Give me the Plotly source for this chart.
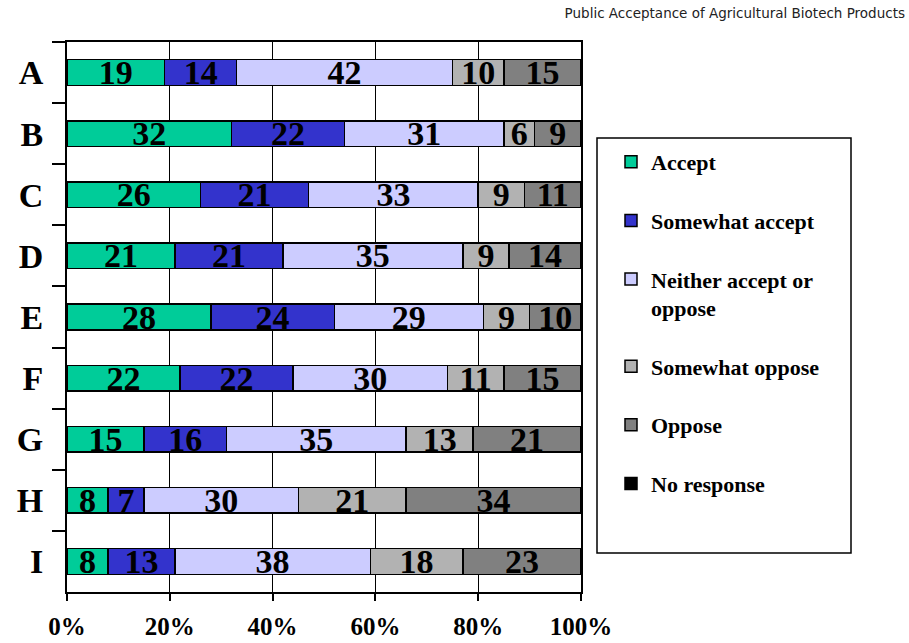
import plotly.graph_objects as go

categories = ["A", "B", "C", "D", "E", "F", "G", "H", "I"]
accept = [19, 32, 26, 21, 28, 22, 15, 8, 8]
somewhat_accept = [14, 22, 21, 21, 24, 22, 16, 7, 13]
neither = [42, 31, 33, 35, 29, 30, 35, 30, 38]
somewhat_oppose = [10, 6, 9, 9, 9, 11, 13, 21, 18]
oppose = [15, 9, 11, 14, 10, 15, 21, 34, 23]
no_response = [0, 0, 0, 0, 0, 0, 0, 0, 0]

series = [
    ("Accept", accept, "#00CC99", True),
    ("Somewhat accept", somewhat_accept, "#3333CC", True),
    ("Neither accept or<br>oppose", neither, "#CCCCFF", True),
    ("Somewhat oppose", somewhat_oppose, "#B2B2B2", True),
    ("Oppose", oppose, "#808080", True),
    ("No response", no_response, "#000000", False),
]

W, H = 909, 643
L, R, T, B = 67, 581, 42, 592

fig = go.Figure()
for i, (name, vals, color, show_text) in enumerate(series):
    fig.add_trace(go.Bar(
        y=categories, x=vals, name=name, orientation="h",
        marker=dict(color=color, line=dict(color="black", width=1.5)),
        text=[str(v) for v in vals] if show_text else None,
        textposition="inside", insidetextanchor="middle", textangle=0,
        constraintext="none",
        textfont=dict(family="Liberation Serif", size=34, color="black", weight="bold"),
        legendgroup=f"g{i}",
        cliponaxis=False,
    ))

fig.update_layout(
    width=W, height=H,
    barmode="stack", bargap=0.58,
    plot_bgcolor="white", paper_bgcolor="white",
    margin=dict(l=L, r=W - R, t=T, b=H - B, autoexpand=False),
    title=dict(text="Public Acceptance of Agricultural Biotech Products",
               x=905 / W, xanchor="right", xref="container",
               y=1 - 13 / H, yanchor="middle",
               font=dict(family="DejaVu Sans", size=13.5, color="#222222")),
    legend=dict(
        x=(611 - L) / (R - L), xanchor="left",
        y=(B - 141) / (B - T), yanchor="top",
        font=dict(family="Liberation Serif", size=22, color="black", weight="bold"),
        borderwidth=0, bgcolor="rgba(0,0,0,0)",
        tracegroupgap=27, valign="top", traceorder="grouped",
    ),
    shapes=[dict(type="rect", xref="paper", yref="paper",
                 x0=(597 - L) / (R - L), x1=(851 - L) / (R - L),
                 y0=(B - 553) / (B - T), y1=(B - 138) / (B - T),
                 line=dict(color="black", width=1.5), fillcolor="rgba(0,0,0,0)", layer="below")],
)

fig.update_xaxes(
    range=[0, 100], tickvals=[0, 20, 40, 60, 80, 100],
    ticktext=["0%", "20%", "40%", "60%", "80%", "100%"],
    showgrid=True, gridcolor="black", gridwidth=1,
    showline=True, linecolor="black", linewidth=2, mirror=True,
    ticks="outside", ticklen=7, tickwidth=2, tickcolor="black",
    ticklabelstandoff=4,
    tickfont=dict(family="Liberation Serif", size=25, color="black", weight="bold"),
    zeroline=False,
)
fig.update_yaxes(
    categoryorder="array", categoryarray=categories, autorange="reversed",
    showline=True, linecolor="black", linewidth=2, mirror=True,
    ticks="outside", tickson="boundaries", ticklen=13, tickwidth=2, tickcolor="black",
    ticklabelstandoff=15,
    tickfont=dict(family="Liberation Serif", size=34, color="black", weight="bold"),
    showgrid=False,
)

fig.write_html("out.html", config={"displayModeBar": False})
with open("out.html", "r", encoding="utf-8") as f:
    html = f.read()
html = html.replace("<head>", "<head><style>html,body{margin:0;padding:0;}</style>", 1)
with open("out.html", "w", encoding="utf-8") as f:
    f.write(html)
